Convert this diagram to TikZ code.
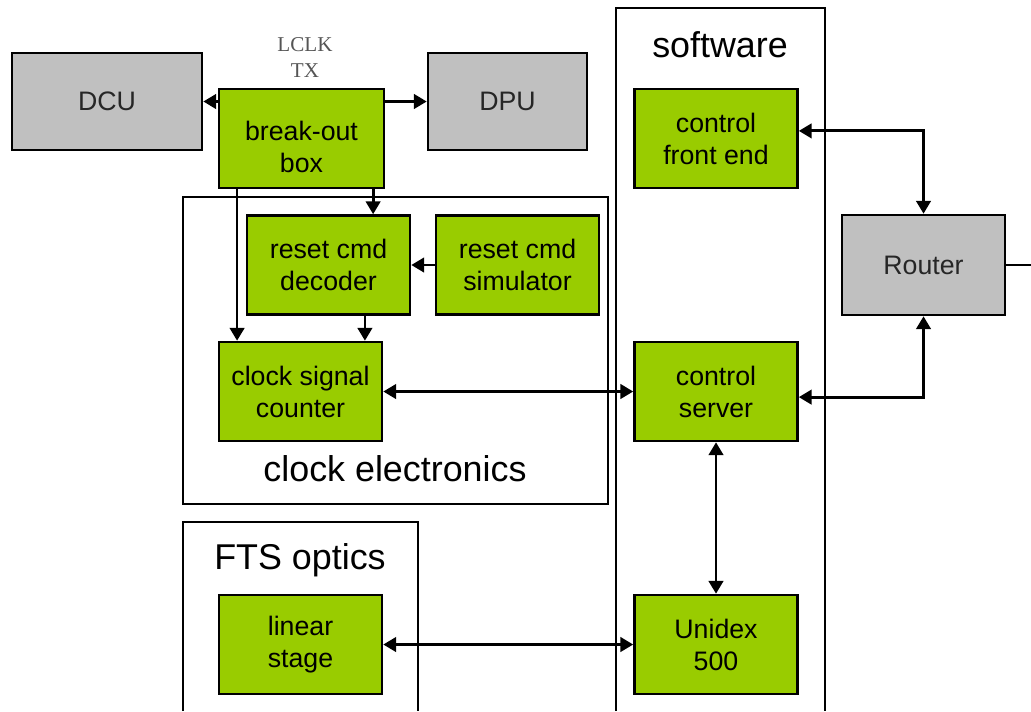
\documentclass[tikz,border=0pt]{standalone}
\usepackage{fontspec}
\setmainfont{Liberation Sans}
\newfontfamily\labelserif{Liberation Serif}
\usetikzlibrary{arrows.meta}

\definecolor{boxgreen}{HTML}{99CC00}
\definecolor{boxgray}{HTML}{C0C0C0}
\definecolor{notegray}{HTML}{555555}

\begin{document}
\begin{tikzpicture}[x=0.025cm, y=-0.025cm, auto]
    \tikzstyle{block} = [rectangle,draw=black,line width=1.8pt,align=center,inner sep=2pt,
        font=\fontsize{19}{22.8}\selectfont, minimum width=4.075cm, minimum height=2.475cm]
    \tikzstyle{block green} = [block, fill=boxgreen]
    \tikzstyle{block gray} = [block, fill=boxgray, text=black!85]
    \tikzstyle{frame box} = [draw=black, line width=1.6pt]
    \tikzstyle{frame label} = [font=\fontsize{25.5}{30}\selectfont]
    \tikzstyle{link undirected} = [draw=black, line width=2pt]
    \tikzstyle{link directed} = [link undirected, -{Triangle[length=0.32cm,width=0.36cm]}]
    \tikzstyle{link both} = [link undirected, {Triangle[length=0.32cm,width=0.36cm]}-{Triangle[length=0.32cm,width=0.36cm]}]
\useasboundingbox (0,0) rectangle (1031,711);
% frames
\draw[frame box] (183,197) rectangle (608,504);
\draw[frame box] (183,711) -- (183,522) -- (418,522) -- (418,711);
\draw[frame box] (616,711) -- (616,8) -- (825,8) -- (825,711);
\node[frame label] (softlabel) at (720,45) {software};
\node[frame label] (clocklabel) at (395,469) {clock electronics};
\node[frame label] (ftslabel) at (300,560) {FTS optics};
% blocks
\node[block gray, minimum width=4.75cm, minimum height=2.425cm] (dcu) at (107,101.5) {DCU};
\node[block green, minimum width=4.125cm, text height=48pt, text depth=0pt] (breakout) at (301.5,138.5) {break-out\\box};
\node[block gray, minimum width=3.975cm, minimum height=2.425cm] (dpu) at (507.5,101.5) {DPU};
\node[font=\labelserif\fontsize{15}{18.5}\selectfont, text=notegray, align=center] (lclk) at (305,57.5) {LCLK\\TX};
\node[block green] (decoder) at (328.5,265) {reset cmd\\decoder};
\node[block green] (simulator) at (517.5,265) {reset cmd\\simulator};
\node[block green] (counter) at (300.5,391.5) {clock signal\\counter};
\node[block green] (frontend) at (716,138.5) {control\\front end};
\node[block green] (server) at (716,391.5) {control\\server};
\node[block green] (unidex) at (716,644.5) {Unidex\\500};
\node[block gray, minimum height=2.5cm] (router) at (923.5,265) {Router};
\node[block green] (linear) at (300.5,644.5) {linear\\stage};
\coordinate (netout) at (1031,265);
% connectors
\draw[link directed] (breakout.west |- dcu.east) to (dcu.east);
\draw[link directed] (breakout.east |- dpu.west) to (dpu.west);
\draw[link directed] ([xshift=1.79cm]breakout.south) to ([xshift=1.79cm]breakout.south |- decoder.north);
\draw[link directed] ([xshift=-1.61cm]breakout.south) to ([xshift=-1.61cm]breakout.south |- counter.north);
\draw[link directed] ([xshift=0.91cm]decoder.south) to ([xshift=0.91cm]decoder.south |- counter.north);
\draw[link directed] (simulator.west) to (decoder.east);
\draw[link both] (counter.east) to (server.west);
\draw[link both] (server.south) to (unidex.north);
\draw[link both] (linear.east) to (unidex.west);
\draw[link both] ([yshift=0.19cm]frontend.east) -| (router.north);
\draw[link both] ([yshift=-0.14cm]server.east) -| (router.south);
\draw[link undirected] (router.east) to (netout);
\end{tikzpicture}
\end{document}
